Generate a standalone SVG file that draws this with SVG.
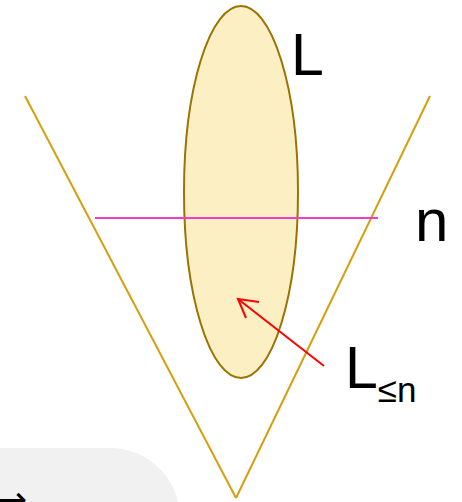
<svg xmlns="http://www.w3.org/2000/svg" width="462" height="502" viewBox="0 0 462 502">
<style>
.lbl{font-family:"Liberation Sans",Arial,sans-serif;fill:#000}
.v{stroke:#D4A010;stroke-width:2;fill:none}
</style>
<rect width="462" height="502" fill="#fff"/>
<g id="bg-panel">
<path d="M0,448 H110 A70,70 0 0 1 180,518 V502 H0 Z" fill="#F1F1F1"/>
<text x="-3" y="512" font-family="DejaVu Sans,sans-serif" font-size="36" fill="#000">→</text>
</g>
<g id="cone">
<line class="v" x1="25" y1="96" x2="236" y2="498"/>
<line class="v" x1="430" y1="96" x2="236" y2="498"/>
</g>
<g id="language-L">
<ellipse cx="241" cy="192" rx="57" ry="186" fill="#FDEFC4" stroke="#9A7400" stroke-width="2"/>
<text class="lbl" x="291" y="75" font-size="59">L</text>
</g>
<g id="level-n">
<line x1="95" y1="218" x2="378" y2="218" stroke="#F03CC8" stroke-width="2.2"/>
<text class="lbl" x="415" y="241" font-size="60">n</text>
</g>
<g id="label-Lleqn">
<text class="lbl" x="345" y="388" font-size="59">L<tspan font-size="35" dy="14">≤n</tspan></text>
</g>
<g id="connectors">
<line x1="324" y1="366" x2="238" y2="299" stroke="#FF0000" stroke-width="2"/>
<polyline points="259,302 238,299 246,318" fill="none" stroke="#FF0000" stroke-width="2"/>
</g>
</svg>
